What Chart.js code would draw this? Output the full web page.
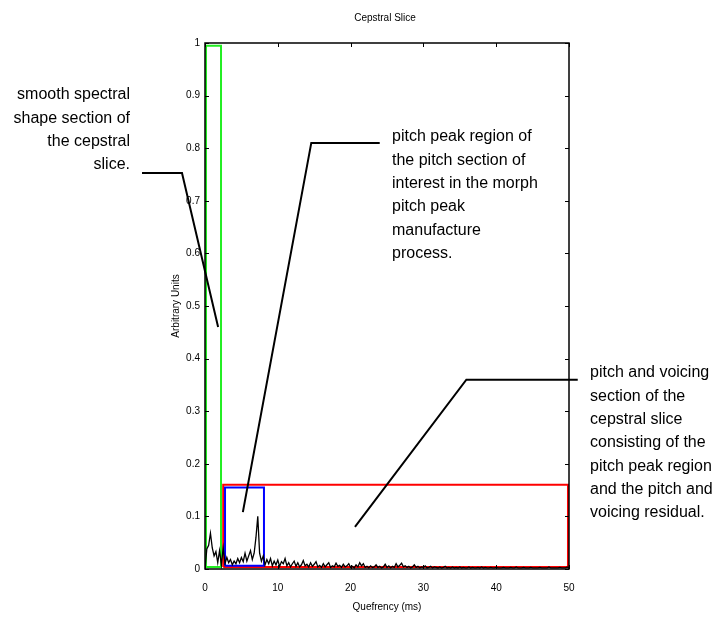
<!DOCTYPE html>
<html>
<head>
<meta charset="utf-8">
<script src="https://cdn.jsdelivr.net/npm/chart.js@4"></script>
<style>
  html, body { margin: 0; padding: 0; background: #fff; }
  #wrap { width: 715px; height: 622px; }
</style>
</head>
<body>
<div id="wrap"><canvas id="chart"></canvas></div>
<script>
// cepstral slice, one sample every 0.25 ms from 0 to 50 ms
const quefrencyStep = 0.25;
const cepstrum = [
  0.000, 0.038, 0.045, 0.068, 0.040, 0.025, 0.033, 0.012, 0.035, 0.008,
  0.040, 0.010, 0.022, 0.012, 0.018, 0.008, 0.015, 0.010, 0.020, 0.012,
  0.022, 0.014, 0.030, 0.015, 0.025, 0.035, 0.018, 0.030, 0.060, 0.100,
  0.030, 0.015, 0.025, 0.008, 0.018, 0.010, 0.020, 0.006, 0.015, 0.008,
  0.017, 0.005, 0.014, 0.010, 0.020, 0.006, 0.012, 0.004, 0.010, 0.015,
  0.005, 0.012, 0.004, 0.008, 0.016, 0.006, 0.009, 0.004, 0.012, 0.005,
  0.009, 0.014, 0.004, 0.007,
  0.003, 0.010, 0.004, 0.008, 0.012, 0.003, 0.006, 0.004, 0.011, 0.005,
  0.007, 0.003, 0.009, 0.004, 0.006, 0.010, 0.003, 0.005, 0.002, 0.008,
  0.004, 0.012, 0.006, 0.010, 0.003, 0.005, 0.002, 0.006, 0.003, 0.004,
  0.008, 0.003, 0.005, 0.002, 0.004, 0.009, 0.003, 0.006, 0.002, 0.005,
  0.003, 0.010, 0.004, 0.007, 0.011, 0.004, 0.006, 0.003, 0.005, 0.002,
  0.004, 0.008, 0.003, 0.005, 0.002, 0.004, 0.003, 0.006, 0.002, 0.003,
  0.005, 0.002, 0.004, 0.003, 0.002, 0.004, 0.002, 0.003, 0.005, 0.002,
  0.003, 0.002, 0.004, 0.002, 0.003, 0.002, 0.004, 0.002, 0.003, 0.002,
  0.002, 0.004, 0.002, 0.003, 0.002, 0.002, 0.003, 0.002, 0.004, 0.002,
  0.003, 0.002, 0.002, 0.003, 0.002, 0.002, 0.003, 0.002, 0.002, 0.002,
  0.003, 0.002, 0.002, 0.002, 0.003, 0.002, 0.002, 0.004, 0.002, 0.002,
  0.002, 0.003, 0.002, 0.002, 0.002, 0.003, 0.002, 0.002, 0.002, 0.002,
  0.003, 0.002, 0.002, 0.002, 0.002, 0.004, 0.002, 0.002, 0.002, 0.002,
  0.002, 0.003, 0.002, 0.002, 0.002, 0.004, 0.002
];

// section boxes [xmin, xmax, ymin, ymax], drawn just inside the axes
const smoothBox = [0.14, 2.2, 0.004, 0.995];
const pitchVoicingBox = [2.5, 49.86, 0.004, 0.16];
const pitchPeakBox = [2.75, 8.1, 0.006, 0.155];

const xTicks = [0, 10, 20, 30, 40, 50];
const yTicks = [0, 0.1, 0.2, 0.3, 0.4, 0.5, 0.6, 0.7, 0.8, 0.9, 1];

// callouts: text lines, then leader line points in data units
const notes = [
  {
    lines: ['smooth spectral', 'shape section of', 'the cepstral', 'slice.'],
    align: 'right', textX: 130, textY: 95,
    leader: [[-8.65, 0.753], [-3.16, 0.753], [1.8, 0.46]]
  },
  {
    lines: ['pitch peak region of', 'the pitch section of', 'interest in the morph',
            'pitch peak', 'manufacture', 'process.'],
    align: 'left', textX: 392, textY: 137,
    leader: [[24.0, 0.81], [14.6, 0.81], [5.2, 0.108]]
  },
  {
    lines: ['pitch and voicing', 'section of the', 'cepstral slice',
            'consisting of the', 'pitch peak region', 'and the pitch and',
            'voicing residual.'],
    align: 'left', textX: 590, textY: 373,
    leader: [[51.2, 0.36], [35.9, 0.36], [20.6, 0.08]]
  }
];

const signalPoints = cepstrum.map((v, i) => ({ x: i * quefrencyStep, y: v }));

function boxPoints(b) {
  return [
    { x: b[0], y: b[2] }, { x: b[0], y: b[3] }, { x: b[1], y: b[3] },
    { x: b[1], y: b[2] }, { x: b[0], y: b[2] }
  ];
}

const fontFamily = '"Liberation Sans", Arial, sans-serif';

const framePlugin = {
  id: 'frame',
  afterDatasetsDraw(chart) {
    const { ctx, chartArea: a, scales } = chart;
    ctx.save();
    ctx.strokeStyle = '#000';
    ctx.lineWidth = 1.5;
    ctx.strokeRect(a.left, a.top, a.right - a.left, a.bottom - a.top);
    ctx.lineWidth = 1;
    ctx.beginPath();
    xTicks.forEach(t => {
      const px = Math.round(scales.x.getPixelForValue(t)) + 0.5;
      ctx.moveTo(px, a.top); ctx.lineTo(px, a.top + 4);
      ctx.moveTo(px, a.bottom); ctx.lineTo(px, a.bottom - 4);
    });
    yTicks.forEach(t => {
      const py = Math.round(scales.y.getPixelForValue(t)) + 0.5;
      ctx.moveTo(a.left, py); ctx.lineTo(a.left + 4, py);
      ctx.moveTo(a.right, py); ctx.lineTo(a.right - 4, py);
    });
    ctx.stroke();
    ctx.restore();
  },
  afterDraw(chart) {
    const { ctx, scales, chartArea: a } = chart;
    ctx.save();
    ctx.fillStyle = '#000';
    // plot title, centred on the plot box
    ctx.font = '10px ' + fontFamily;
    ctx.textAlign = 'center';
    ctx.textBaseline = 'middle';
    ctx.fillText('Cepstral Slice', (a.left + a.right) / 2 - 2, 18);

    ctx.strokeStyle = '#000';
    ctx.lineWidth = 2;
    ctx.font = '16px ' + fontFamily;
    notes.forEach(n => {
      ctx.textAlign = n.align;
      n.lines.forEach((s, i) => ctx.fillText(s, n.textX, n.textY + i * 23.3));
      ctx.beginPath();
      n.leader.forEach((p, i) => {
        const px = scales.x.getPixelForValue(p[0]);
        const py = scales.y.getPixelForValue(p[1]);
        if (i === 0) ctx.moveTo(px, py); else ctx.lineTo(px, py);
      });
      ctx.stroke();
    });
    ctx.restore();
  }
};

const tickFont = { family: fontFamily, size: 10 };

new Chart(document.getElementById('chart'), {
  type: 'line',
  data: {
    datasets: [
      { label: 'cepstrum', data: signalPoints, borderColor: '#000', borderWidth: 1.3 },
      { label: 'pitch peak region', data: boxPoints(pitchPeakBox), borderColor: '#0000ff', borderWidth: 2 },
      { label: 'pitch and voicing', data: boxPoints(pitchVoicingBox), borderColor: '#ff0000', borderWidth: 2 },
      { label: 'smooth spectral shape', data: boxPoints(smoothBox), borderColor: '#22ee22', borderWidth: 2 }
    ]
  },
  options: {
    responsive: true,
    maintainAspectRatio: false,
    animation: false,
    layout: { padding: { left: 160, right: 146, top: 43, bottom: 0 } },
    elements: { point: { radius: 0 }, line: { tension: 0 } },
    plugins: {
      legend: { display: false },
      tooltip: { enabled: false },
      title: { display: false }
    },
    scales: {
      x: {
        type: 'linear',
        min: 0, max: 50,
        afterBuildTicks: s => { s.ticks = xTicks.map(v => ({ value: v })); },
        afterFit: s => { s.height = 53; },
        grid: { display: false, drawTicks: false },
        border: { display: false },
        ticks: { color: '#000', font: tickFont, padding: 13, maxRotation: 0 },
        title: {
          display: true, text: 'Quefrency (ms)', color: '#000',
          font: tickFont, padding: { top: 0, bottom: 9 }
        }
      },
      y: {
        min: 0, max: 1,
        afterBuildTicks: s => { s.ticks = yTicks.map(v => ({ value: v })); },
        afterFit: s => { s.width = 45; },
        grid: { display: false, drawTicks: false },
        border: { display: false },
        ticks: { color: '#000', font: tickFont, padding: 5, callback: v => String(v) },
        title: {
          display: true, text: 'Arbitrary Units', color: '#000',
          font: tickFont, padding: { top: 10, bottom: 0 }
        }
      }
    }
  },
  plugins: [framePlugin]
});
</script>
</body>
</html>
